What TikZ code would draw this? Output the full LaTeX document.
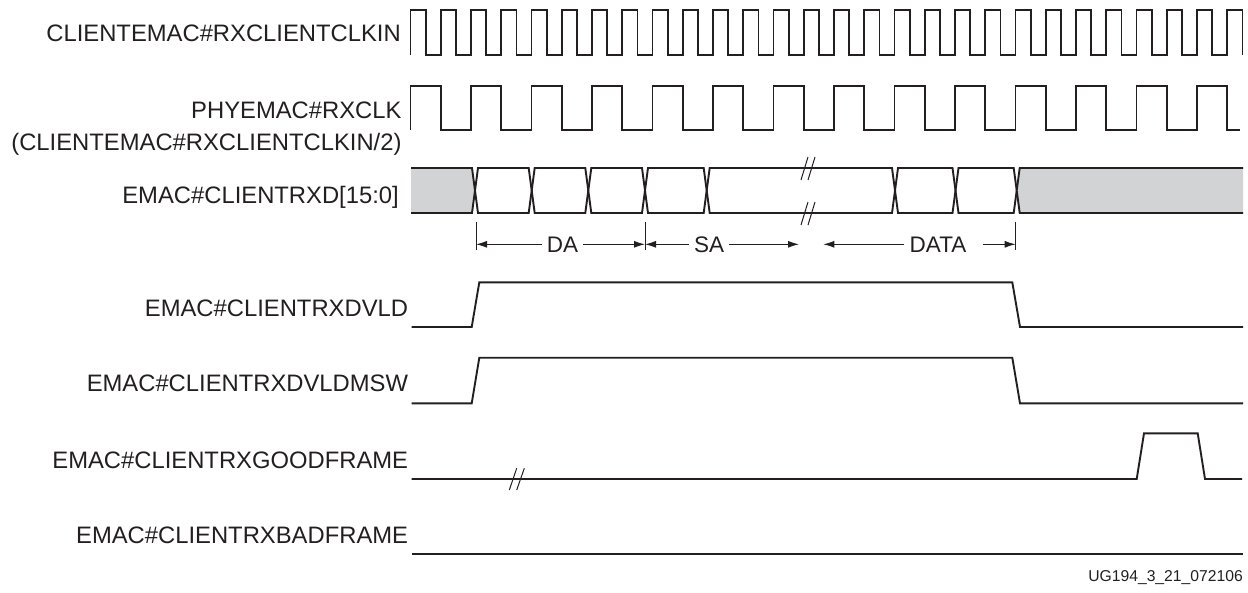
\documentclass[tikz,border=0pt]{standalone}
\usepackage{fontspec}
\setmainfont{Liberation Sans}
\usetikzlibrary{arrows.meta}
\definecolor{ink}{RGB}{35,31,32}
\definecolor{busgray}{RGB}{209,211,212}

\begin{document}
\begin{tikzpicture}[x=1pt,y=-1pt,
    wave/.style={ink,line width=1.9pt,line join=miter},
    sig/.style={anchor=base east,inner sep=0pt,text=ink,font=\fontsize{23.8}{27}\selectfont},
    dimtxt/.style={inner xsep=5pt,inner ysep=0pt,text=ink,font=\fontsize{22.5}{26}\selectfont},
    dimline/.style={ink,line width=1pt,-{Latex[length=11pt,width=7pt]}},
    brk/.style={ink,line width=1pt}]
            \useasboundingbox (0,0) rectangle (1248,592);

            % signal names
            \node[sig] (lclkin) at (401,41.7) {CLIENTEMAC\#RXCLIENTCLKIN};
            \node[sig] (lrxclk) at (401.7,118.3) {PHYEMAC\#RXCLK};
            \node[sig] (lrxhalf) at (401.7,150.7) {(CLIENTEMAC\#RXCLIENTCLKIN/2)};
            \node[sig] (lrxd) at (399,203.3) {EMAC\#CLIENTRXD[15:0]};
            \node[sig] (ldvld) at (408.3,316.7) {EMAC\#CLIENTRXDVLD};
            \node[sig] (lmsw) at (408.3,391.7) {EMAC\#CLIENTRXDVLDMSW};
            \node[sig] (lgood) at (408.3,468.3) {EMAC\#CLIENTRXGOODFRAME};
            \node[sig] (lbad) at (408.3,543.3) {EMAC\#CLIENTRXBADFRAME};
            \node[anchor=base east,inner sep=0pt,text=ink,font=\fontsize{15.7}{18}\selectfont]
                (lfoot) at (1243,581) {UG194\_3\_21\_072106};

            % clocks
            \draw[wave] (410.5,55) \foreach \k in {0,...,27} {
                -- ({410.5+30.25*\k},55) -- ({410.5+30.25*\k},10)
                -- ({425.7+30.25*\k},10) -- ({425.7+30.25*\k},55) };
            \draw[wave] (410.5,130) \foreach \k in {0,...,13} {
                -- ({410.5+60.5*\k},130) -- ({410.5+60.5*\k},86)
                -- ({440.75+60.5*\k},86) -- ({440.75+60.5*\k},130) } -- (1240,130);

            % data bus
            \filldraw[wave,fill=busgray] (411,168) -- (472,168) -- (475,190.5)
                -- (472,213) -- (411,213);
            \foreach \a/\b in {475/531.7, 531.7/588.3, 588.3/645, 645/706.7,
                706.7/895, 895/955.5, 955.5/1016.7}
                \draw[wave] (\a,190.5) -- ({\a+3},168) -- ({\b-3},168) -- (\b,190.5)
                    -- ({\b-3},213) -- ({\a+3},213) -- cycle;
            \filldraw[wave,fill=busgray] (1243,168) -- (1019.7,168) -- (1016.7,190.5)
                -- (1019.7,213) -- (1243,213);
            \draw[brk] (801,180) -- (808,157) (808,180) -- (815,157);
            \draw[brk] (801,225) -- (808,202) (808,225) -- (815,202);

            % DA / SA / DATA
            \draw[ink,line width=1pt] (476,221.7) -- (476,250);
            \draw[ink,line width=1pt] (645,221.7) -- (645,250);
            \draw[ink,line width=1pt] (1015.7,221.7) -- (1015.7,250);
            \coordinate (daL) at (476,244.3);
            \coordinate (daR) at (645,244.3);
            \coordinate (saR) at (799,244.3);
            \coordinate (dataL) at (823.3,244.3);
            \coordinate (dataR) at (1015.7,244.3);
            \node[dimtxt] (tda) at (562.5,244.3) {DA};
            \node[dimtxt] (tsa) at (709,244.3) {SA};
            \node[dimtxt] (tdata) at (938,244.3) {DATA};
            \draw[dimline] (tda) -- (daL);
            \draw[dimline] (tda) -- (daR);
            \draw[dimline] (tsa) -- (daR);
            \draw[dimline] (tsa) -- (saR);
            \draw[dimline] (tdata) -- (dataL);
            \draw[dimline] ([xshift=11pt]tdata.east) -- (dataR);

            % valid, msw, good, bad
            \draw[wave] (411.7,327) -- (471.7,327) -- (479.3,282.3) -- (1012.3,282.3)
                -- (1020,327) -- (1243,327);
            \draw[wave] (411.7,403.3) -- (471.7,403.3) -- (479.3,357.7) -- (1012.3,357.7)
                -- (1020,403.3) -- (1243,403.3);
            \draw[wave] (411.7,479) -- (1136.7,479) -- (1144,433.3) -- (1197.7,433.3)
                -- (1205,479) -- (1242,479);
            \draw[brk] (509.3,490) -- (516.7,468.3) (516.7,490) -- (524.3,468.3);
            \draw[wave] (411.7,554.3) -- (1243,554.3);
        \end{tikzpicture}
\end{document}
